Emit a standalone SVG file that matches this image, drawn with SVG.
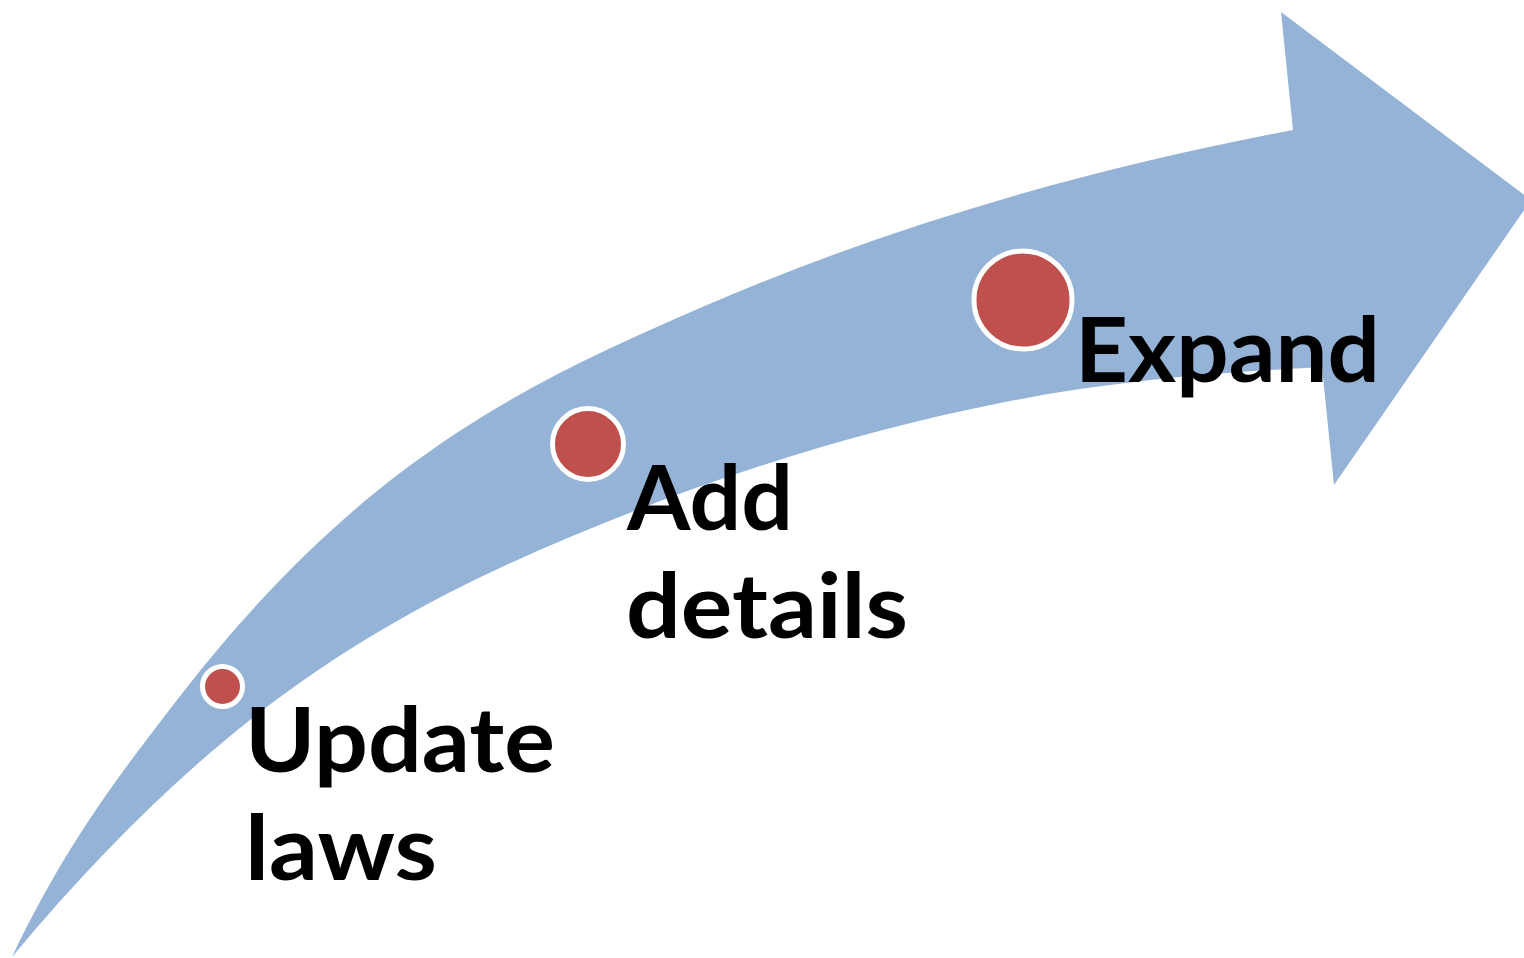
<svg xmlns="http://www.w3.org/2000/svg" width="1524" height="958" viewBox="0 0 1524 958">
  <style>
    .dot { fill: #C0504D; stroke: #FFFFFF; stroke-width: 5; }
    .lbl { font-family: "Lato", "Open Sans", "Liberation Sans", sans-serif; font-weight: 700; font-size: 90px; fill: #000000; }
  </style>
  <rect x="0" y="0" width="1524" height="958" fill="#FFFFFF"/>
  <g id="connectors">
    <path id="arrow" fill="#95B3D7" d="M12,957 C67,841.5 122,771.5 177,700 C251.3,603.4 325.7,529.5 400,473 C502.3,395.2 604.7,349 707,305 C902.3,221 1097.7,167.1 1293,130 L1281,12 L1531,200 L1334,485 L1322,367 C1214.7,372.4 1107.3,381.5 1000,403 C856.7,431.7 713.3,476.8 570,537 C463.3,581.8 356.7,635.7 250,720 C170.7,782.6 91.3,861.8 12,957 Z"/>
  </g>
  <g id="node-update">
    <circle class="dot" cx="222.5" cy="686.5" r="20"/>
    <text class="lbl" x="245" y="772" textLength="310" lengthAdjust="spacingAndGlyphs">Update</text>
    <text class="lbl" x="245" y="880" textLength="192" lengthAdjust="spacingAndGlyphs">laws</text>
  </g>
  <g id="node-add">
    <circle class="dot" cx="588" cy="444" r="35.5"/>
    <text class="lbl" x="627" y="530" textLength="166" lengthAdjust="spacingAndGlyphs">Add</text>
    <text class="lbl" x="626" y="638" textLength="282" lengthAdjust="spacingAndGlyphs">details</text>
  </g>
  <g id="node-expand">
    <circle class="dot" cx="1023" cy="300" r="49"/>
    <text class="lbl" x="1075" y="382" textLength="305" lengthAdjust="spacingAndGlyphs">Expand</text>
  </g>
</svg>
